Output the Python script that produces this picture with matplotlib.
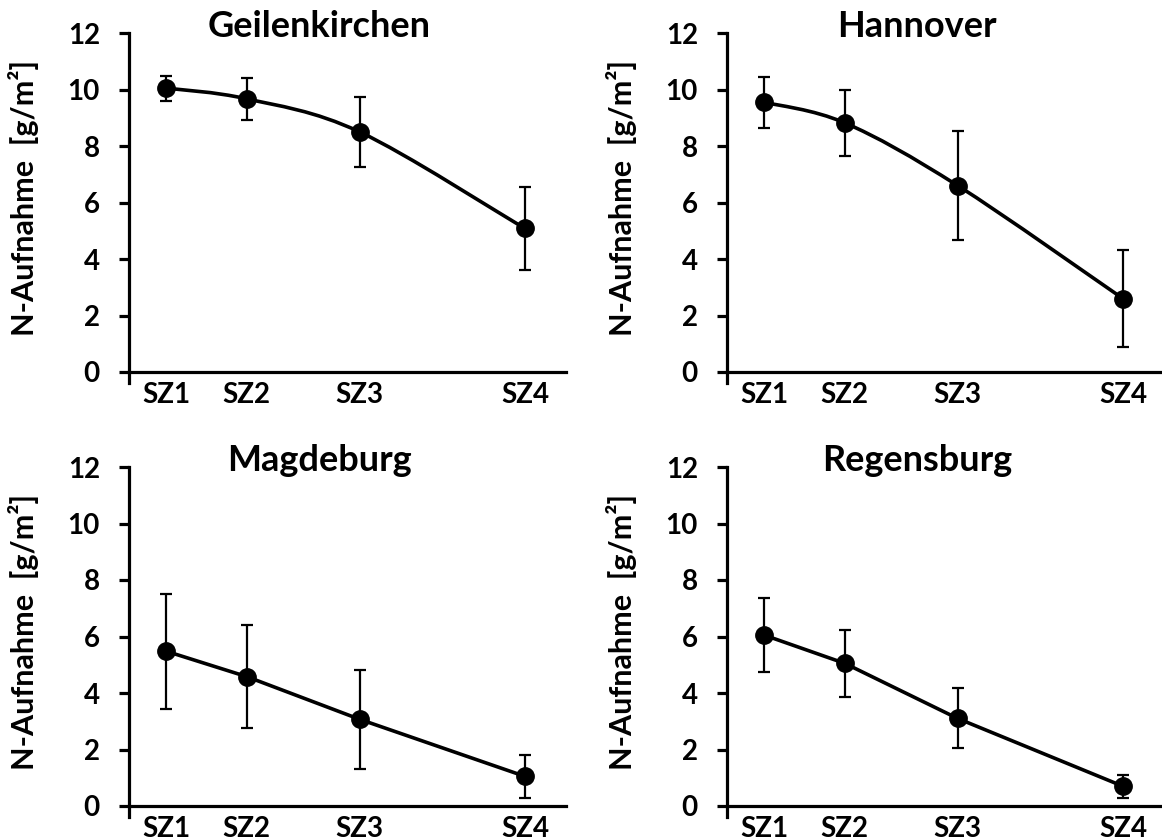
import numpy as np
import matplotlib
matplotlib.use('Agg')
import matplotlib.pyplot as plt
from matplotlib.path import Path
from matplotlib.patches import PathPatch

plt.rcParams['font.family'] = ['Lato', 'DejaVu Sans']
plt.rcParams['font.weight'] = 'bold'

# sampling dates SZ1..SZ4 (uneven spacing as in the original)
stages = ['SZ1', 'SZ2', 'SZ3', 'SZ4']
stage_x = [1, 2, 3.4, 5.45]

sites = ['Geilenkirchen', 'Hannover', 'Magdeburg', 'Regensburg']
n_mean = {
    'Geilenkirchen': [10.05, 9.67, 8.5, 5.08],
    'Hannover':      [9.55, 8.82, 6.6, 2.6],
    'Magdeburg':     [5.48, 4.58, 3.07, 1.05],
    'Regensburg':    [6.05, 5.05, 3.1, 0.7],
}
n_err = {
    'Geilenkirchen': [0.44, 0.75, 1.25, 1.46],
    'Hannover':      [0.9, 1.17, 1.92, 1.73],
    'Magdeburg':     [2.03, 1.81, 1.75, 0.75],
    'Regensburg':    [1.31, 1.19, 1.06, 0.4],
}
smooth = {'Geilenkirchen': True, 'Hannover': True,
          'Magdeburg': False, 'Regensburg': False}

W, H = 1162, 840
# axes boxes in pixels: left, top(y=12), bottom(y=-0.4)
boxes = {
    'Geilenkirchen': (129, 33, 383.3),
    'Hannover':      (727, 33, 383.3),
    'Magdeburg':     (129, 467, 817.3),
    'Regensburg':    (727, 467, 817.3),
}
aw = 437


def smooth_path(x, y):
    # excel style smoothed line (cubic bezier through the points)
    p = np.column_stack([x, y]).astype(float)
    pts = np.vstack([p[0], p, p[-1]])
    verts = [p[0]]
    codes = [Path.MOVETO]
    for i in range(1, len(pts) - 2):
        c1 = pts[i] + (pts[i + 1] - pts[i - 1]) / 6.0
        c2 = pts[i + 1] - (pts[i + 2] - pts[i]) / 6.0
        verts += [c1, c2, pts[i + 1]]
        codes += [Path.CURVE4] * 3
    return Path(verts, codes)


fig = plt.figure(figsize=(W / 100, H / 100), dpi=100)

for s in sites:
    l, t, b = boxes[s]
    ax = fig.add_axes([l / W, 1 - b / H, aw / W, (b - t) / H])
    y = n_mean[s]
    if smooth[s]:
        ax.add_patch(PathPatch(smooth_path(stage_x, y), fill=False,
                               lw=2.6, color='black', zorder=2))
    else:
        ax.plot(stage_x, y, color='black', lw=2.6, zorder=2)
    ax.errorbar(stage_x, y, yerr=n_err[s], fmt='o', color='black',
                ms=12.5, elinewidth=1.6, capsize=4, capthick=1.6, zorder=3)

    ax.set_xlim(0.54, 5.96)
    ax.set_ylim(-0.4, 12)
    ax.set_yticks([0, 2, 4, 6, 8, 10, 12])
    ax.set_xticks(stage_x)
    ax.set_xticklabels(stages)
    for sp in ['top', 'right']:
        ax.spines[sp].set_visible(False)
    ax.spines['bottom'].set_position(('data', 0))
    for sp in ['left', 'bottom']:
        ax.spines[sp].set_linewidth(2.3)
    ax.tick_params(axis='y', direction='out', length=7, width=2.3,
                   labelsize=20, pad=14)
    ax.tick_params(axis='x', length=0, labelsize=20, pad=7)
    for lab in ax.get_xticklabels() + ax.get_yticklabels():
        lab.set_fontweight('bold')

    ax.set_ylabel('N-Aufnahme  [g/m²]', fontsize=22, fontweight='bold')
    ax.yaxis.set_label_coords(-0.205, 0.53)
    ax.text(0.435, 0.988, s, transform=ax.transAxes, ha='center',
            va='baseline', fontsize=26, fontweight='bold')

fig.savefig('out.png', dpi=100)
